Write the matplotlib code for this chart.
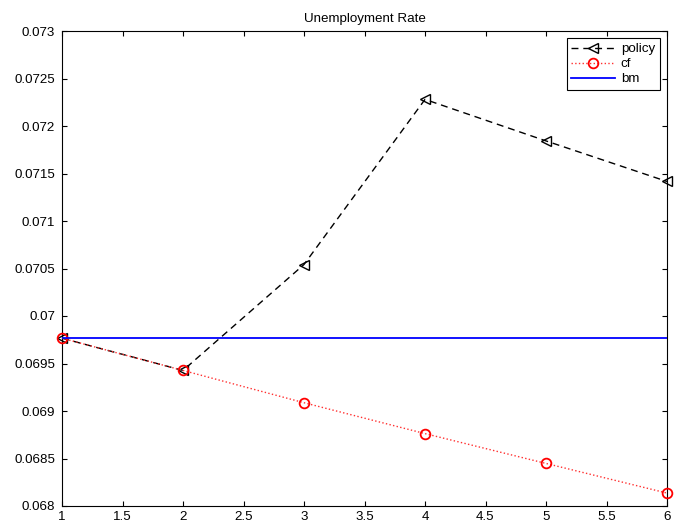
import matplotlib
matplotlib.use("Agg")
import matplotlib.pyplot as plt
from matplotlib.ticker import FixedLocator, FixedFormatter

# Quarters after the policy change
periods = [1, 2, 3, 4, 5, 6]

# Unemployment rate under each scenario
policy = [0.069766, 0.069427, 0.070542, 0.072280, 0.071843, 0.071416]
cf = [0.069766, 0.069427, 0.069087, 0.068762, 0.068448, 0.068136]
bm = [0.069766, 0.069766, 0.069766, 0.069766, 0.069766, 0.069766]

x_ticks = [1, 1.5, 2, 2.5, 3, 3.5, 4, 4.5, 5, 5.5, 6]
x_tick_labels = ["1", "1.5", "2", "2.5", "3", "3.5", "4", "4.5", "5", "5.5", "6"]
y_ticks = [0.068, 0.0685, 0.069, 0.0695, 0.07, 0.0705, 0.071, 0.0715,
           0.072, 0.0725, 0.073]
y_tick_labels = ["0.068", "0.0685", "0.069", "0.0695", "0.07", "0.0705",
                 "0.071", "0.0715", "0.072", "0.0725", "0.073"]

plt.rcParams["font.family"] = ["Liberation Sans", "DejaVu Sans"]
fs = 9.6

fig = plt.figure(figsize=(6.78, 5.24), dpi=100)
ax = fig.add_axes([62 / 678, 18 / 524, 605 / 678, 475 / 524])

ax.plot(periods, policy, color="black", linestyle="--", dashes=(5, 3.5),
        linewidth=1.0, marker="<", markersize=7, markerfacecolor="none",
        markeredgecolor="black", markeredgewidth=1.0, label="policy",
        clip_on=False, zorder=3)
ax.plot(periods, cf, color="#ff3030", linestyle=":", linewidth=1.0,
        marker="o", markersize=7, markerfacecolor="none",
        markeredgecolor="red", markeredgewidth=1.3, label="cf",
        clip_on=False, zorder=4)
ax.plot(periods, bm, color="#0000ff", linestyle="-", linewidth=1.3,
        label="bm", zorder=5)

ax.set_xlim(1, 6)
ax.set_ylim(0.068, 0.073)
ax.xaxis.set_major_locator(FixedLocator(x_ticks))
ax.xaxis.set_major_formatter(FixedFormatter(x_tick_labels))
ax.yaxis.set_major_locator(FixedLocator(y_ticks))
ax.yaxis.set_major_formatter(FixedFormatter(y_tick_labels))

ax.tick_params(direction="in", length=3.6, width=0.8, top=True, right=True,
               labelsize=fs, colors="black")
ax.tick_params(axis="x", pad=3.5)
ax.tick_params(axis="y", pad=5)
for sp in ax.spines.values():
    sp.set_linewidth(0.8)
    sp.set_color("black")

ax.set_title("Unemployment Rate", fontsize=fs, pad=6.5)

leg = ax.legend(loc="upper right", fontsize=fs, numpoints=1,
                handlelength=3.3, handletextpad=0.4, labelspacing=0.2,
                borderpad=0.35, borderaxespad=0.55, fancybox=False,
                framealpha=1, edgecolor="black")
leg.get_frame().set_linewidth(0.8)
leg.set_zorder(10)

fig.savefig("out.png", dpi=100)
